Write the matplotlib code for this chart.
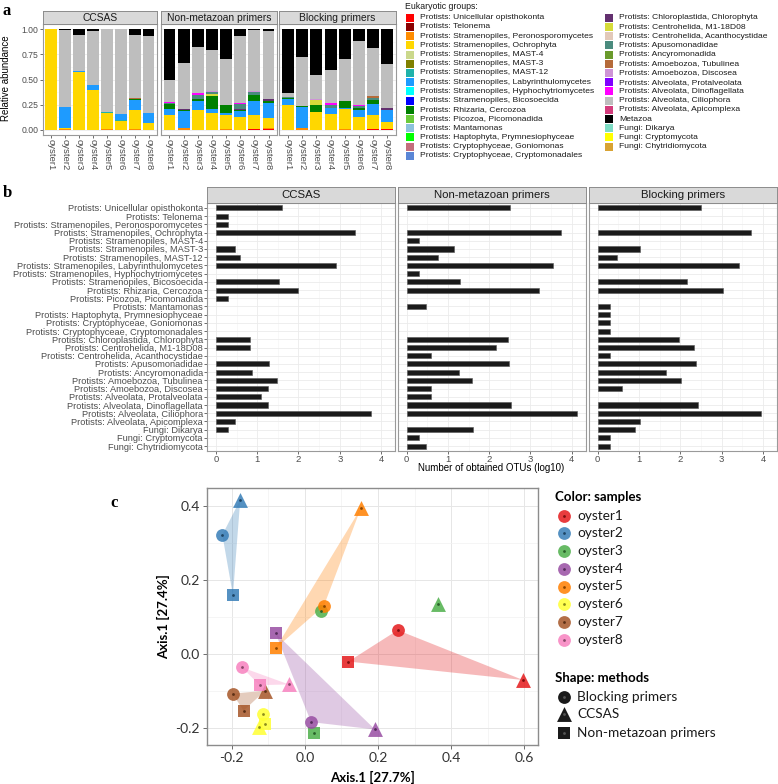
import numpy as np
import matplotlib.pyplot as plt
from matplotlib.patches import Rectangle, Polygon
from matplotlib.ticker import MultipleLocator
import matplotlib.colors as mcolors

plt.rcParams['font.family'] = ['Liberation Sans', 'DejaVu Sans']

W, H = 778, 784

# ---------------- panel a: relative abundance ----------------
groups = [
    "Protists: Unicellular opisthokonta", "Protists: Telonema",
    "Protists: Stramenopiles, Peronosporomycetes", "Protists: Stramenopiles, Ochrophyta",
    "Protists: Stramenopiles, MAST-4", "Protists: Stramenopiles, MAST-3",
    "Protists: Stramenopiles, MAST-12", "Protists: Stramenopiles, Labyrinthulomycetes",
    "Protists: Stramenopiles, Hyphochytriomycetes", "Protists: Stramenopiles, Bicosoecida",
    "Protists: Rhizaria, Cercozoa", "Protists: Picozoa, Picomonadida",
    "Protists: Mantamonas", "Protists: Haptophyta, Prymnesiophyceae",
    "Protists: Cryptophyceae, Goniomonas", "Protists: Cryptophyceae, Cryptomonadales",
    "Protists: Chloroplastida, Chlorophyta", "Protists: Centrohelida, M1-18D08",
    "Protists: Centrohelida, Acanthocystidae", "Protists: Apusomonadidae",
    "Protists: Ancyromonadida", "Protists: Amoebozoa, Tubulinea",
    "Protists: Amoebozoa, Discosea", "Protists: Alveolata, Protalveolata",
    "Protists: Alveolata, Dinoflagellata", "Protists: Alveolata, Ciliophora",
    "Protists: Alveolata, Apicomplexa", "Metazoa",
    "Fungi: Dikarya", "Fungi: Cryptomycota", "Fungi: Chytridiomycota",
]
group_colors = [
    '#FF0000', '#8B0000', '#FF8C00', '#FFD700', '#CBD88B', '#808000', '#20B2AA',
    '#1E9BFF', '#00FFFF', '#0000FF', '#008000', '#6BCB3B', '#8CC2DC', '#00FF00',
    '#C46F7D', '#5A86D6', '#63306F', '#D6DB3A', '#E2C9B9', '#4A8B7E', '#6A9A2C',
    '#B56B3A', '#CE94D6', '#7F00FF', '#FF00FF', '#BEBEBE', '#D33C7C', '#000000',
    '#7DDCC4', '#FFFF00', '#D8A333',
]
samples = ['oyster1', 'oyster2', 'oyster3', 'oyster4', 'oyster5', 'oyster6', 'oyster7', 'oyster8']

ccsas_abund = {
    "Protists: Stramenopiles, Peronosporomycetes": [0, 0.01, 0, 0, 0.01, 0, 0.01, 0],
    "Protists: Stramenopiles, Ochrophyta": [1.0, 0.01, 0.57, 0.40, 0.16, 0.09, 0.19, 0.07],
    "Protists: Stramenopiles, MAST-12": [0, 0, 0.005, 0, 0.01, 0.01, 0, 0],
    "Protists: Stramenopiles, Labyrinthulomycetes": [0, 0.21, 0.01, 0.05, 0, 0.06, 0.10, 0.10],
    "Protists: Rhizaria, Cercozoa": [0, 0, 0, 0, 0, 0, 0.01, 0],
    "Protists: Amoebozoa, Tubulinea": [0, 0, 0, 0, 0, 0, 0.01, 0],
    "Protists: Alveolata, Ciliophora": [0, 0.76, 0.355, 0.53, 0.82, 0.84, 0.62, 0.76],
    "Metazoa": [0, 0.01, 0.06, 0.02, 0, 0, 0.06, 0.07],
}
nonmeta_abund = {
    "Protists: Unicellular opisthokonta": [0, 0, 0, 0, 0, 0, 0.01, 0.01],
    "Protists: Stramenopiles, Peronosporomycetes": [0, 0.015, 0, 0, 0.01, 0, 0, 0.01],
    "Protists: Stramenopiles, Ochrophyta": [0.15, 0, 0.20, 0.17, 0.14, 0.13, 0.14, 0.10],
    "Protists: Stramenopiles, Labyrinthulomycetes": [0.06, 0.175, 0.09, 0.04, 0.02, 0.06, 0.14, 0.15],
    "Protists: Rhizaria, Cercozoa": [0.05, 0.01, 0.02, 0.13, 0.08, 0.01, 0.06, 0.02],
    "Protists: Chloroplastida, Chlorophyta": [0, 0.01, 0, 0, 0, 0.01, 0, 0.02],
    "Protists: Centrohelida, M1-18D08": [0, 0, 0, 0.02, 0, 0, 0, 0],
    "Protists: Apusomonadidae": [0.01, 0, 0.04, 0.02, 0, 0.05, 0.03, 0],
    "Protists: Amoebozoa, Discosea": [0, 0, 0, 0.01, 0, 0, 0.01, 0],
    "Protists: Alveolata, Dinoflagellata": [0.01, 0, 0.02, 0, 0, 0.01, 0, 0],
    "Protists: Alveolata, Ciliophora": [0.22, 0.45, 0.45, 0.40, 0.45, 0.66, 0.60, 0.67],
    "Metazoa": [0.50, 0.34, 0.18, 0.21, 0.30, 0.07, 0.01, 0.02],
}
blocking_abund = {
    "Protists: Unicellular opisthokonta": [0, 0, 0, 0, 0, 0, 0.01, 0.01],
    "Protists: Stramenopiles, Peronosporomycetes": [0, 0.015, 0, 0, 0.01, 0, 0, 0],
    "Protists: Stramenopiles, Ochrophyta": [0.25, 0, 0.18, 0.16, 0.20, 0.13, 0.14, 0.07],
    "Protists: Stramenopiles, Labyrinthulomycetes": [0.06, 0.21, 0, 0.06, 0.01, 0.07, 0.11, 0.12],
    "Protists: Rhizaria, Cercozoa": [0.01, 0.015, 0.07, 0, 0.07, 0.02, 0.04, 0],
    "Protists: Chloroplastida, Chlorophyta": [0, 0, 0, 0, 0, 0, 0, 0.02],
    "Protists: Centrohelida, M1-18D08": [0, 0, 0.05, 0, 0, 0, 0, 0],
    "Protists: Apusomonadidae": [0.01, 0, 0, 0.03, 0, 0.02, 0.02, 0],
    "Protists: Amoebozoa, Tubulinea": [0, 0, 0, 0, 0, 0, 0.02, 0],
    "Protists: Amoebozoa, Discosea": [0, 0, 0.01, 0, 0, 0, 0, 0],
    "Protists: Alveolata, Dinoflagellata": [0, 0, 0, 0.02, 0, 0.01, 0, 0],
    "Protists: Alveolata, Ciliophora": [0.04, 0.48, 0.23, 0.32, 0.41, 0.63, 0.47, 0.43],
    "Protists: Alveolata, Apicomplexa": [0, 0, 0, 0, 0, 0, 0.005, 0],
    "Metazoa": [0.63, 0.28, 0.46, 0.41, 0.30, 0.12, 0.185, 0.35],
}

# ---------------- panel b: number of OTUs (log10) ----------------
otu_groups = [g for g in groups if g != "Metazoa"]
ccsas_otus = [1.61, 0.28, 0.28, 3.38, 0, 0.46, 0.58, 2.92, 0, 1.53, 1.99, 0.28, 0, 0, 0,
              0, 0.82, 0.82, 0, 1.28, 0.88, 1.47, 1.26, 1.09, 1.26, 3.75, 0.46, 0.28, 0, 0]
nonmeta_otus = [2.51, 0, 0, 3.73, 0.30, 1.14, 0.77, 3.55, 0.30, 1.29, 3.21, 0, 0.47, 0, 0,
                0, 2.46, 2.17, 0.60, 2.48, 1.28, 1.58, 0.60, 0.60, 2.54, 4.12, 0, 1.60, 0.30, 0.48]
blocking_otus = [2.49, 0, 0, 3.70, 0, 1.03, 0.47, 3.43, 0, 2.17, 3.04, 0, 0.29, 0.29, 0.29,
                 0.29, 1.98, 2.34, 0.29, 2.38, 1.66, 2.01, 0.59, 0, 2.44, 3.96, 1.03, 0.90, 0.29, 0.29]

# ---------------- panel c: ordination ----------------
pc_sample = ['oyster1'] * 3 + ['oyster2'] * 3 + ['oyster3'] * 3 + ['oyster4'] * 3 + \
            ['oyster5'] * 3 + ['oyster6'] * 3 + ['oyster7'] * 3 + ['oyster8'] * 3
pc_method = ['Blocking primers', 'CCSAS', 'Non-metazoan primers'] * 8
pc_x = [0.254, 0.597, 0.119, -0.226, -0.177, -0.197, 0.044, 0.363, 0.026, 0.017, 0.192, -0.080,
        0.052, 0.153, -0.080, -0.116, -0.127, -0.110, -0.198, -0.109, -0.168, -0.172, -0.044, -0.124]
pc_y = [0.065, -0.070, -0.020, 0.323, 0.418, 0.160, 0.118, 0.136, -0.214, -0.184, -0.204, 0.056,
        0.131, 0.395, 0.016, -0.163, -0.198, -0.188, -0.107, -0.099, -0.153, -0.036, -0.082, -0.084]
sample_colors = ['#E41A1C', '#377EB8', '#4DAF4A', '#984EA3', '#FF7F00', '#FFFF33', '#A65628', '#F781BF']
methods = ['Blocking primers', 'CCSAS', 'Non-metazoan primers']
method_markers = ['o', '^', 's']
method_sizes = [85, 115, 85]

facet_names = ['CCSAS', 'Non-metazoan primers', 'Blocking primers']

fig = plt.figure(figsize=(W / 100, H / 100), dpi=100)


def add_ax(l, t, r, b, **kw):
    return fig.add_axes([l / W, 1 - b / H, (r - l) / W, (b - t) / H], **kw)


def strip(l, t, r, b, text, size):
    s = add_ax(l, t, r, b)
    s.set_facecolor('#D9D9D9')
    s.set_xticks([])
    s.set_yticks([])
    for sp in s.spines.values():
        sp.set_color('#8C8C8C')
        sp.set_linewidth(0.7)
    s.text(0.5, 0.48, text, ha='center', va='center', fontsize=size, color='#1A1A1A',
           transform=s.transAxes)


def style_panel(ax):
    for sp in ax.spines.values():
        sp.set_color('#9A9A9A')
        sp.set_linewidth(0.8)
    ax.set_axisbelow(True)


# overlay for figure level text and legends (pixel coordinates)
ov = fig.add_axes([0, 0, 1, 1], zorder=10)
ov.set_xlim(0, W)
ov.set_ylim(H, 0)
ov.axis('off')

# ---- panel a ----
a_cols = [(42.7, 157), (161, 277), (279.3, 396)]
for i, ((l, r), name, abund) in enumerate(zip(a_cols, facet_names,
                                              [ccsas_abund, nonmeta_abund, blocking_abund])):
    ax = add_ax(l, 24, r, 135)
    strip(l, 10.5, r, 24, name, 7.4)
    x = np.arange(len(samples))
    bottom = np.zeros(len(samples))
    for g, c in zip(groups, group_colors):
        if g in abund:
            vals = np.array(abund[g])
            ax.bar(x, vals, bottom=bottom, width=0.84, color=c, linewidth=0, zorder=2)
            bottom += vals
    ax.set_xlim(-0.6, 7.6)
    ax.set_ylim(-0.05, 1.05)
    ax.set_xticks(x)
    ax.set_xticklabels(samples, rotation=-90, fontsize=6.8, color='#4D4D4D')
    ax.set_yticks([0, 0.25, 0.5, 0.75, 1.0])
    ax.yaxis.set_minor_locator(MultipleLocator(0.125))
    ax.grid(axis='y', which='major', color='#EBEBEB', lw=0.6)
    ax.grid(axis='y', which='minor', color='#F4F4F4', lw=0.4)
    ax.tick_params(which='minor', length=0)
    ax.tick_params(length=2, width=0.5, color='#333333', pad=1.2)
    if i == 0:
        ax.set_yticklabels(['0.00', '0.25', '0.50', '0.75', '1.00'], fontsize=6.2, color='#4D4D4D')
    else:
        ax.tick_params(axis='y', left=False, labelleft=False)
    style_panel(ax)

ov.text(6, 78, 'Relative abundance', rotation=90, ha='center', va='center', fontsize=7)
ov.text(3, 11, 'a', fontsize=12, fontweight='bold', family='Liberation Serif', va='center')

# legend of panel a
ov.text(405, 6, 'Eukaryotic groups:', fontsize=6.3, va='center', color='#1A1A1A')
for k, (g, c) in enumerate(zip(groups, group_colors)):
    col, row = (0, k) if k < 16 else (1, k - 16)
    sx = 406 if col == 0 else 605
    sy = 17.7 + 9.21 * row
    ov.add_patch(Rectangle((sx, sy - 4), 8, 8, facecolor=c, edgecolor='none'))
    ov.text(sx + 14, sy, g, fontsize=6.1, va='center', color='#1A1A1A')

# ---- panel b ----
b_cols = [(207.3, 395), (398, 585.7), (589, 777)]
ypos = np.arange(len(otu_groups))
for i, ((l, r), name, vals) in enumerate(zip(b_cols, facet_names,
                                             [ccsas_otus, nonmeta_otus, blocking_otus])):
    ax = add_ax(l, 203, r, 451)
    strip(l, 187, r, 203, name, 8.2)
    vals = np.array(vals)
    keep = vals > 0
    ax.barh(ypos[keep], vals[keep], height=0.62, color='#1A1A1A', edgecolor='#555555',
            linewidth=0.4, zorder=2)
    ax.set_xlim(-0.21, 4.34)
    ax.set_ylim(len(otu_groups) - 0.4, -0.6)
    ax.set_xticks([0, 1, 2, 3, 4])
    ax.xaxis.set_minor_locator(MultipleLocator(0.5))
    ax.set_yticks(ypos)
    ax.grid(which='major', color='#EBEBEB', lw=0.6)
    ax.grid(axis='x', which='minor', color='#F4F4F4', lw=0.4)
    ax.tick_params(which='minor', length=0)
    ax.tick_params(length=2, width=0.5, color='#333333', pad=1.2, labelsize=6.8, labelcolor='#4D4D4D')
    if i == 0:
        ax.set_yticklabels(otu_groups, fontsize=6.7, color='#4D4D4D')
    else:
        ax.tick_params(axis='y', left=False, labelleft=False)
    style_panel(ax)

ov.text(491, 468, 'Number of obtained OTUs (log10)', ha='center', va='center', fontsize=7)
ov.text(3, 193, 'b', fontsize=12, fontweight='bold', family='Liberation Serif', va='center')

# ---- panel c ----
cax = add_ax(207, 488, 538, 745)
for s_i, (smp, col) in enumerate(zip(samples, sample_colors)):
    if smp == 'oyster3':
        continue
    pts = [(x, y) for x, y, s in zip(pc_x, pc_y, pc_sample) if s == smp]
    cax.add_patch(Polygon(pts, closed=True, facecolor=col, alpha=0.3, edgecolor='none', zorder=2))

for x, y, smp, m in zip(pc_x, pc_y, pc_sample, pc_method):
    col = sample_colors[samples.index(smp)]
    mi = methods.index(m)
    cax.scatter(x, y, s=method_sizes[mi], marker=method_markers[mi], color=col, alpha=0.85,
                linewidths=0, zorder=3)
    dark = np.array(mcolors.to_rgb(col)) * 0.55
    cax.scatter(x, y, s=4, marker='o', color=dark, linewidths=0, zorder=4)

cax.set_xlim(-0.268, 0.638)
cax.set_ylim(-0.246, 0.45)
cax.set_xticks([-0.2, 0.0, 0.2, 0.4, 0.6])
cax.set_xticklabels(['-0.2', '0.0', '0.2', '0.4', '0.6'])
cax.set_yticks([-0.2, 0.0, 0.2, 0.4])
cax.set_yticklabels(['-0.2', '0.0', '0.2', '0.4'])
cax.xaxis.set_minor_locator(MultipleLocator(0.1))
cax.yaxis.set_minor_locator(MultipleLocator(0.1))
cax.grid(which='major', color='#E6E6E6', lw=0.7)
cax.grid(which='minor', color='#F2F2F2', lw=0.5)
cax.tick_params(which='minor', length=0)
cax.tick_params(length=3, width=0.6, color='#555555', pad=2, labelsize=10, labelcolor='#333333')
for lab in cax.get_xticklabels() + cax.get_yticklabels():
    lab.set_family('Lato')
for sp in cax.spines.values():
    sp.set_color('#8C8C8C')
    sp.set_linewidth(1.0)
cax.set_axisbelow(True)
cax.set_xlabel('Axis.1 [27.7%]', fontsize=9.5, fontweight='bold', family='Lato', labelpad=5)
cax.set_ylabel('Axis.1 [27.4%]', fontsize=9.5, fontweight='bold', family='Lato', labelpad=4)

ov.text(110, 503, 'c', fontsize=12, fontweight='bold', family='Liberation Serif', va='center')

# legend of panel c
ov.text(555, 497, 'Color: samples', fontsize=9.5, fontweight='bold', family='Lato', va='center')
for k, (smp, col) in enumerate(zip(samples, sample_colors)):
    yy = 515.7 + 17.7 * k
    ov.scatter(564, yy, s=85, marker='o', color=col, alpha=0.85, linewidths=0)
    ov.scatter(564, yy, s=4, marker='o', color=np.array(mcolors.to_rgb(col)) * 0.55, linewidths=0)
    ov.text(577, yy, smp, fontsize=9.8, family='Lato', va='center', color='#1A1A1A')

ov.text(555, 678, 'Shape: methods', fontsize=9.5, fontweight='bold', family='Lato', va='center')
for k, (m, mk, sz) in enumerate(zip(methods, method_markers, method_sizes)):
    yy = [696.7, 713.5, 732.7][k]
    ov.scatter(564, yy, s=sz, marker=mk, color='#1A1A1A', linewidths=0)
    ov.scatter(564, yy, s=4, marker='o', color='#555555', linewidths=0)
    ov.text(577, yy, m, fontsize=9.8, family='Lato', va='center', color='#1A1A1A')

fig.savefig('out.png', dpi=100)
